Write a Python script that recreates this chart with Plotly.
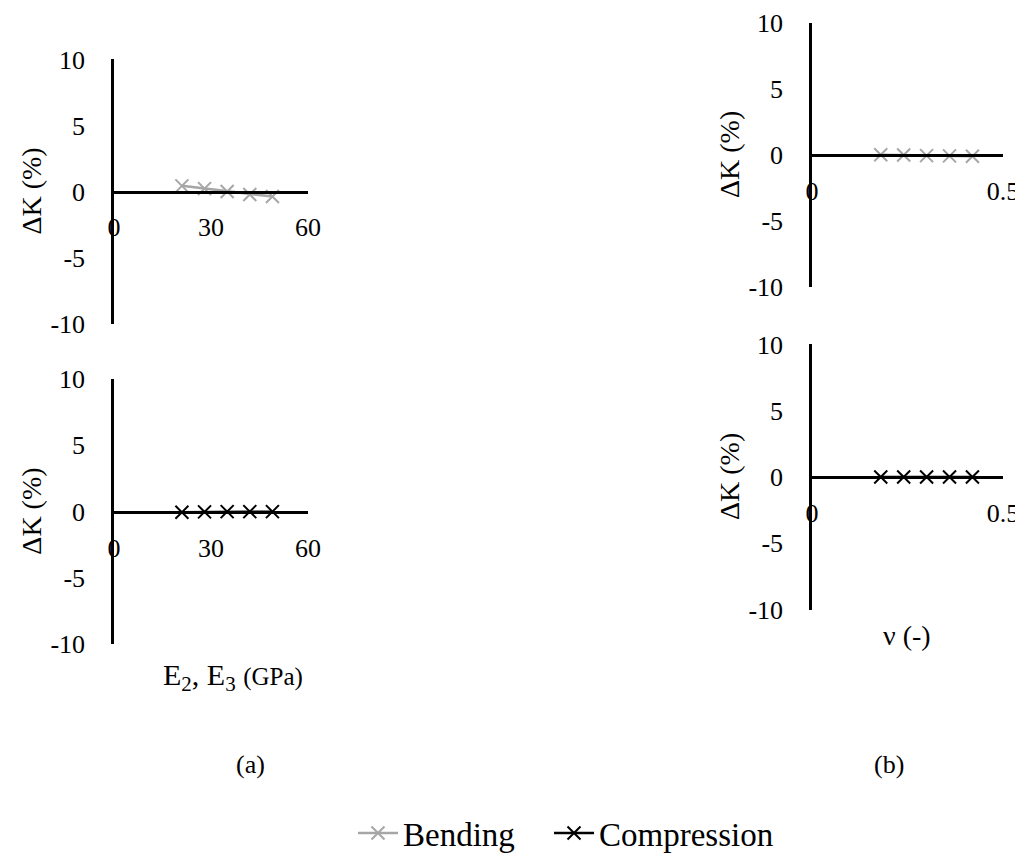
import plotly.graph_objects as go

# ---- data ----
E_vals = [21, 28, 35, 42, 49]                 # E2, E3 (GPa)
bend_E = [0.43, 0.22, 0.0, -0.22, -0.38]      # ΔK (%) bending
comp_E = [-0.05, -0.02, 0.0, 0.0, 0.0]        # ΔK (%) compression
nu_vals = [0.18, 0.24, 0.30, 0.36, 0.42]      # ν (-)
bend_nu = [0.02, 0.0, -0.05, -0.07, -0.10]
comp_nu = [0.0, 0.0, 0.0, 0.0, 0.0]
x_ticks_E = [0, 30, 60]
x_ticks_nu = [0, 0.5]
x_text_nu = ["0", "0.5"]
y_ticks = [-10, -5, 0, 5, 10]
y_text = ["-10", "-5", "0", "5", "10"]

OFF = 8  # page body margin
W, H = 1023 - OFF, 861 - OFF
FONT = "Liberation Serif, Times New Roman, serif"
GREY = "#A6A6A6"
BLACK = "#000000"

def px_x(p):
    return (p - OFF) / W

def px_y(p):
    return 1 - (p - OFF) / H

# panel pixel boxes (screen pixels): (left, right, top, bottom)
panels = {
    "1": (114, 308, 60, 327),
    "2": (114, 308, 383, 651),
    "3": (812, 1003, 23, 290),
    "4": (812, 1003, 348, 616),
}

fig = go.Figure()

def add_series(xs, ys, color, name, axis, show, legend):
    fig.add_trace(go.Scatter(
        x=xs, y=ys, mode="lines+markers", name=name,
        line=dict(color=color, width=2.5),
        marker=dict(symbol="x-thin", size=13, color=color,
                    line=dict(color=color, width=2)),
        xaxis="x" + ("" if axis == "1" else axis),
        yaxis="y" + ("" if axis == "1" else axis),
        showlegend=show, legendgroup=name, legend=legend,
    ))

add_series(E_vals, bend_E, GREY, "Bending", "1", True, "legend")
add_series(E_vals, comp_E, BLACK, "Compression", "2", True, "legend2")
add_series(nu_vals, bend_nu, GREY, "Bending", "3", False, "legend")
add_series(nu_vals, comp_nu, BLACK, "Compression", "4", False, "legend2")

leg_common = dict(orientation="h", y=px_y(842), xanchor="left", yanchor="middle",
                  font=dict(family=FONT, size=33), itemwidth=40,
                  bgcolor="rgba(0,0,0,0)")

layout = dict(
    width=W, height=H, autosize=False,
    margin=dict(l=0, r=0, t=0, b=0, pad=0),
    paper_bgcolor="white", plot_bgcolor="white",
    font=dict(family=FONT, size=26, color="black"),
    showlegend=True,
    legend=dict(x=px_x(353), **leg_common),
    legend2=dict(x=px_x(549), **leg_common),
)

for key, (l, r, t, b) in panels.items():
    sfx = "" if key == "1" else key
    is_e = key in ("1", "2")
    xr = [0, 60] if is_e else [0, 0.5]
    xt = x_ticks_E if is_e else x_ticks_nu
    xtt = [str(v) for v in x_ticks_E] if is_e else x_text_nu
    ymid = (px_y(t) + px_y(b)) / 2
    layout["xaxis" + sfx] = dict(
        domain=[px_x(l), px_x(r)], range=xr, tickvals=xt, ticktext=xtt,
        anchor="free", position=ymid, automargin=False,
        showline=True, linecolor="black", linewidth=2.5,
        showgrid=False, zeroline=False, ticks="",
        ticklabelstandoff=12,
        tickfont=dict(family=FONT, size=26),
    )
    layout["yaxis" + sfx] = dict(
        domain=[px_y(b), px_y(t)], range=[-10, 10], tickvals=y_ticks, ticktext=y_text,
        anchor="x" + sfx, automargin=False,
        showline=True, linecolor="black", linewidth=2.5,
        showgrid=False, zeroline=False, ticks="",
        ticklabelstandoff=21,
        tickfont=dict(family=FONT, size=26),
    )

fig.update_layout(**layout)

ann = []
# y-axis titles
for key, xc in (("1", 32), ("2", 32), ("3", 730), ("4", 730)):
    l, r, t, b = panels[key]
    ann.append(dict(text="ΔK (%)", x=px_x(xc), y=(px_y(t) + px_y(b)) / 2,
                    xref="paper", yref="paper", showarrow=False, textangle=-90,
                    font=dict(family=FONT, size=28), xanchor="center", yanchor="middle"))
ann.append(dict(text="E<sub>2</sub>, E<sub>3</sub> <span style='font-size:25px'>(GPa)</span>",
                x=px_x(233), y=px_y(684), xref="paper", yref="paper", showarrow=False,
                font=dict(family=FONT, size=30), xanchor="center", yanchor="middle"))
ann.append(dict(text="ν (-)", x=px_x(907), y=px_y(642), xref="paper", yref="paper",
                showarrow=False, font=dict(family=FONT, size=28),
                xanchor="center", yanchor="middle"))
ann.append(dict(text="(a)", x=px_x(250), y=px_y(773), xref="paper", yref="paper",
                showarrow=False, font=dict(family=FONT, size=26),
                xanchor="center", yanchor="middle"))
ann.append(dict(text="(b)", x=px_x(889), y=px_y(773), xref="paper", yref="paper",
                showarrow=False, font=dict(family=FONT, size=26),
                xanchor="center", yanchor="middle"))
fig.update_layout(annotations=ann)

fig.write_html("out.html")
